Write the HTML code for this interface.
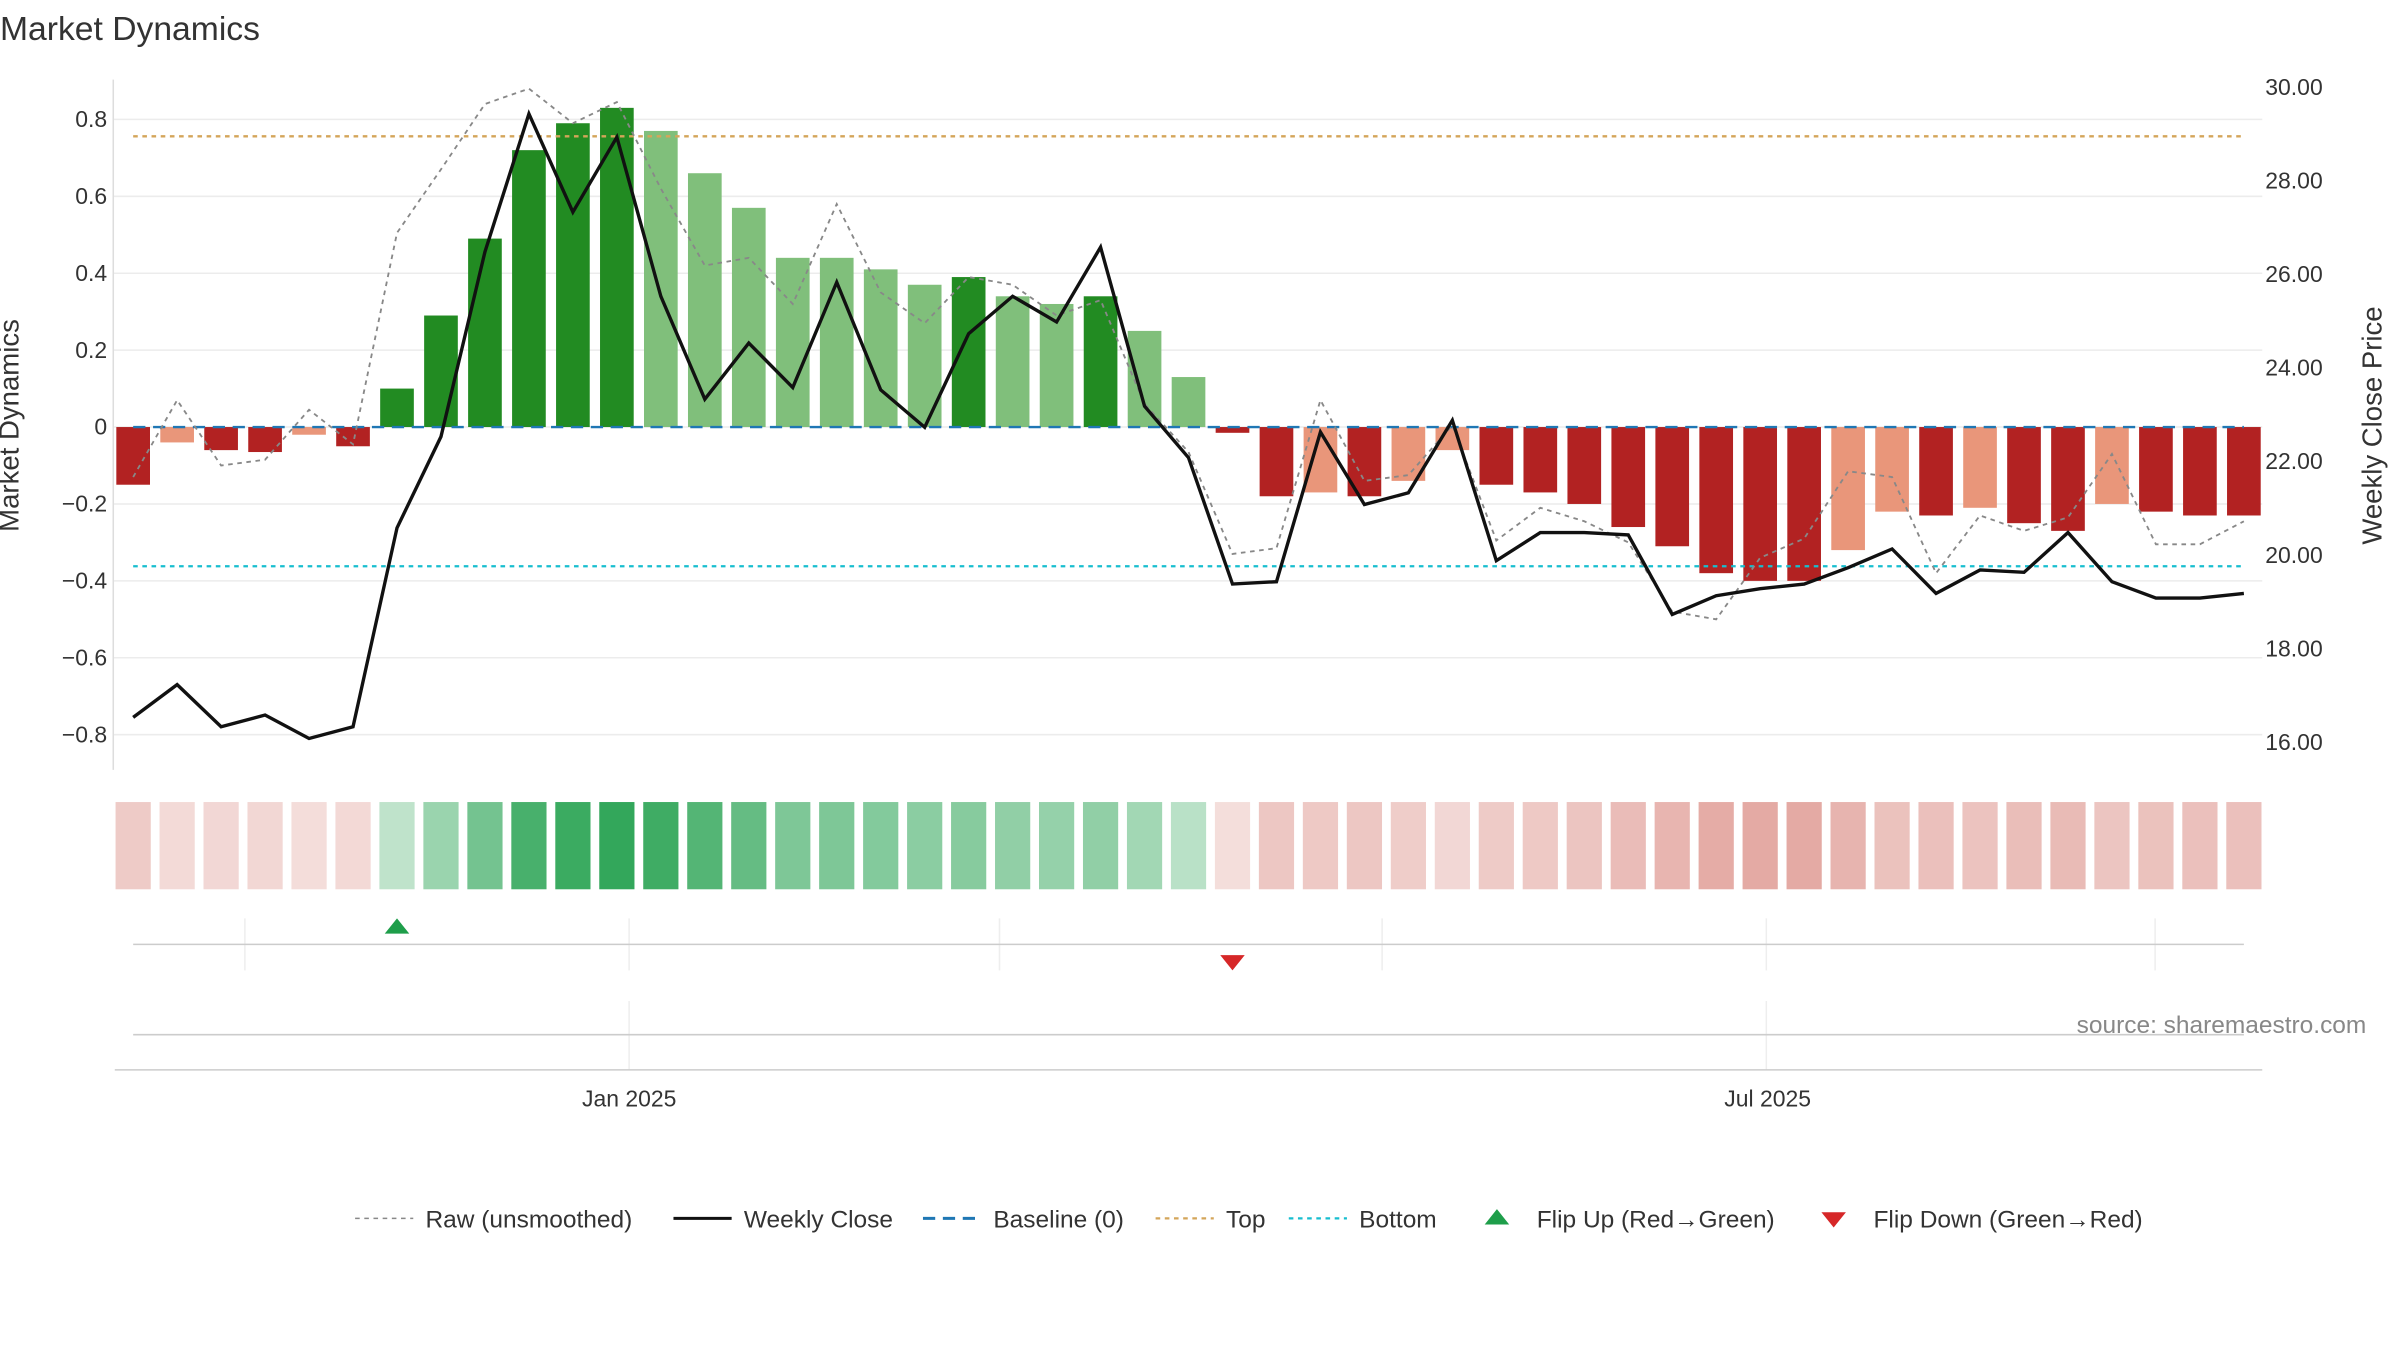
<!DOCTYPE html>
<html><head><meta charset="utf-8">
<style>
html,body{margin:0;padding:0;background:#fff;}
svg{display:block;font-family:"Liberation Sans","DejaVu Sans",sans-serif;}
</style></head>
<body>
<svg id="chart" width="2400" height="1350" viewBox="0 0 1568 882" xmlns="http://www.w3.org/2000/svg">
<text x="0" y="26" font-size="22" fill="#333">Market Dynamics</text>
<g id="grid"></g>
<g id="bars"></g>
<g id="lines"></g>
<g id="heat"></g>
<g id="flips"></g>
<text x="12" y="278" font-size="18" fill="#333" text-anchor="middle" transform="rotate(-90 12 278)">Market Dynamics</text>
<text x="1556" y="278" font-size="18" fill="#333" text-anchor="middle" transform="rotate(-90 1556 278)">Weekly Close Price</text>
<text x="1546" y="675" font-size="16" fill="#888" text-anchor="end">source: sharemaestro.com</text>
<g id="legend" font-size="16" fill="#333">
  <g><line x1="232" y1="796" x2="270" y2="796" stroke="#888" stroke-dasharray="3,3"/><text x="278" y="802">Raw (unsmoothed)</text></g>
  <g><line x1="440" y1="796" x2="478" y2="796" stroke="#111" stroke-width="2"/><text x="486" y="802">Weekly Close</text></g>
  <g><line x1="603" y1="796" x2="641" y2="796" stroke="#1f77b4" stroke-width="2" stroke-dasharray="8,5"/><text x="649" y="802">Baseline (0)</text></g>
  <g><line x1="755" y1="796" x2="793" y2="796" stroke="#d4a55a" stroke-width="1.5" stroke-dasharray="3,3"/><text x="801" y="802">Top</text></g>
  <g><line x1="842" y1="796" x2="880" y2="796" stroke="#17becf" stroke-width="1.5" stroke-dasharray="3,3"/><text x="888" y="802">Bottom</text></g>
  <g><polygon points="970,800 978,790 986,800" fill="#1e9e4a"/><text x="1004" y="802">Flip Up (Red→Green)</text></g>
  <g><polygon points="1190,792 1198,802 1206,792" fill="#d62728"/><text x="1224" y="802">Flip Down (Green→Red)</text></g>
</g>
</svg>
<script>
const values=[-0.15,-0.04,-0.06,-0.065,-0.02,-0.05,0.10,0.29,0.49,0.72,0.79,0.83,0.77,0.66,0.57,0.44,0.44,0.41,0.37,0.39,0.34,0.32,0.34,0.25,0.13,-0.015,-0.18,-0.17,-0.18,-0.14,-0.06,-0.15,-0.17,-0.20,-0.26,-0.31,-0.38,-0.40,-0.40,-0.32,-0.22,-0.23,-0.21,-0.25,-0.27,-0.20,-0.22,-0.23,-0.23];
const strong=[1,0,1,1,0,1,1,1,1,1,1,1,0,0,0,0,0,0,0,1,0,0,1,0,0,1,1,0,1,0,0,1,1,1,1,1,1,1,1,0,0,1,0,1,1,0,1,1,1];
const rawValues=[-0.13,0.07,-0.10,-0.085,0.045,-0.045,0.505,0.67,0.84,0.88,0.79,0.845,0.62,0.42,0.44,0.32,0.58,0.35,0.27,0.39,0.37,0.29,0.33,0.06,-0.065,-0.33,-0.315,0.07,-0.14,-0.125,0.005,-0.295,-0.21,-0.245,-0.30,-0.48,-0.50,-0.34,-0.29,-0.115,-0.13,-0.38,-0.23,-0.27,-0.235,-0.07,-0.305,-0.305,-0.245];
const closes=[16.5,17.2,16.3,16.55,16.05,16.3,20.55,22.5,26.45,29.4,27.3,28.9,25.5,23.3,24.5,23.55,25.8,23.5,22.7,24.7,25.5,24.95,26.55,23.15,22.05,19.35,19.4,22.6,21.05,21.3,22.85,19.85,20.45,20.45,20.4,18.7,19.1,19.25,19.35,19.7,20.1,19.15,19.65,19.6,20.45,19.4,19.05,19.05,19.15];
const leftTicks=[-0.8,-0.6,-0.4,-0.2,0,0.2,0.4,0.6,0.8];
const leftTickLabels=["−0.8","−0.6","−0.4","−0.2","0","0.2","0.4","0.6","0.8"];
const rightTicks=[16,18,20,22,24,26,28,30];
const rightTickLabels=["16.00","18.00","20.00","22.00","24.00","26.00","28.00","30.00"];
const topLevel=0.756, bottomLevel=-0.362;
const flipUpIndex=[6], flipDownIndex=[25];
const dateTicks=["Jan 2025","Jul 2025"];
const dateTickIndex=[11.28,37.17];

const NS="http://www.w3.org/2000/svg";
function el(parent,tag,attrs){const e=document.createElementNS(NS,tag);for(const k in attrs)e.setAttribute(k,attrs[k]);document.getElementById(parent).appendChild(e);return e;}
const x=i=>87+i*(1466-87)/(values.length-1);
const y=v=>279-v*251.25;
const y2=p=>56+(30-p)*30.57;
const X0=74,X1=1478;

// grid & ticks
leftTicks.forEach((t,i)=>{
  const g=el('grid','line',{x1:X0,x2:X1,y1:y(t),y2:y(t),stroke:'#ececec','stroke-width':1});
  
  
  const tx=el('grid','text',{x:70,y:y(t)+5,'font-size':15,fill:'#333','text-anchor':'end'});
  tx.textContent=leftTickLabels[i];
  
  
});
rightTicks.forEach((t,i)=>{
  const tx=el('grid','text',{x:1480,y:y2(t)+6,'font-size':15,fill:'#333'});
  tx.textContent=rightTickLabels[i];
  
  
});
const sp=el('grid','line',{x1:X0,x2:X0,y1:52,y2:503,stroke:'#ddd'});



// bars
const bw=22;
values.forEach((v,i)=>{
  const col=v>=0?(strong[i]?'#228b22':'#80bf7b'):(strong[i]?'#b22222':'#e9967a');
  const r=el('bars','rect',{x:x(i)-bw/2,y:Math.min(y(v),y(0)),width:bw,height:Math.abs(y(v)-y(0)),fill:col});
  
  
});

// reference lines
let l=el('lines','line',{x1:87,x2:1466,y1:y(0),y2:y(0),stroke:'#1f77b4','stroke-width':1.5,'stroke-dasharray':'8,5'});


l=el('lines','line',{x1:87,x2:1466,y1:y(topLevel),y2:y(topLevel),stroke:'#d4a55a','stroke-width':1.5,'stroke-dasharray':'3,3'});


l=el('lines','line',{x1:87,x2:1466,y1:y(bottomLevel),y2:y(bottomLevel),stroke:'#17becf','stroke-width':1.5,'stroke-dasharray':'3,3'});



let p=el('lines','polyline',{points:rawValues.map((v,i)=>x(i)+','+y(v)).join(' '),fill:'none',stroke:'#888','stroke-width':1.2,'stroke-dasharray':'3,3'});


p=el('lines','polyline',{points:closes.map((v,i)=>x(i)+','+y2(v)).join(' '),fill:'none',stroke:'#111','stroke-width':2.2});



// heat strip
values.forEach((v,i)=>{
  const a=Math.min(1,0.2+0.85*Math.abs(v));
  const c=v>=0?'30,158,74':'192,57,43';
  const r=el('heat','rect',{x:x(i)-11.5,y:524,width:23,height:57,fill:'rgba('+c+','+(v>=0?a:a*0.8)+')'});
  
  
});

// flips panel
[160,411,653,903,1154,1408].forEach(gx=>{
  const g=el('flips','line',{x1:gx,x2:gx,y1:600,y2:634,stroke:'#eee'});
  
  
});
[411,1154].forEach(gx=>{
  const g=el('flips','line',{x1:gx,x2:gx,y1:654,y2:699,stroke:'#eee'});
  
  
});
l=el('flips','line',{x1:87,x2:1466,y1:617,y2:617,stroke:'#ccc'});


l=el('flips','line',{x1:87,x2:1466,y1:676,y2:676,stroke:'#ccc'});


l=el('flips','line',{x1:75,x2:1478,y1:699,y2:699,stroke:'#ccc'});


flipUpIndex.forEach(i=>{
  const t=el('flips','polygon',{points:(x(i)-8)+',610 '+x(i)+',600 '+(x(i)+8)+',610',fill:'#1e9e4a'});
  
  
});
flipDownIndex.forEach(i=>{
  const t=el('flips','polygon',{points:(x(i)-8)+',624 '+x(i)+',634 '+(x(i)+8)+',624',fill:'#d62728'});
  
  
});
dateTicks.forEach((d,k)=>{
  const t=el('flips','text',{x:x(dateTickIndex[k]),y:723,'font-size':15,fill:'#333','text-anchor':'middle'});
  t.textContent=d;
  
  
});
</script>
</body></html>
